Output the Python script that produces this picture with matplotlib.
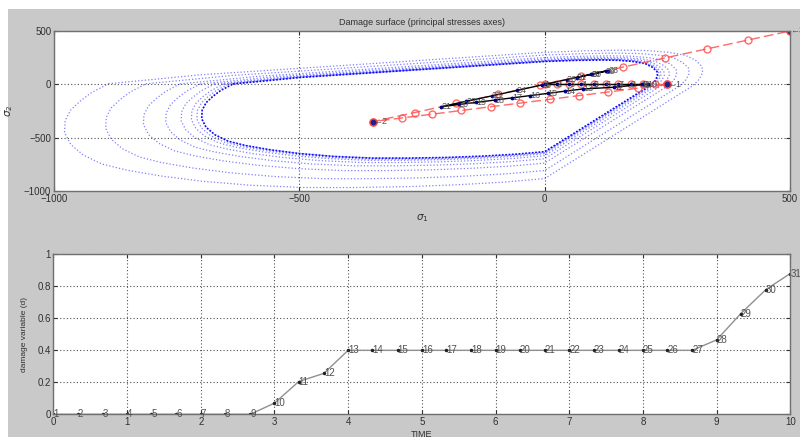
import numpy as np
import matplotlib.pyplot as plt
from matplotlib.patches import Rectangle

plt.rcParams['font.family'] = ['Liberation Sans', 'DejaVu Sans']

# initial damage surface (principal stresses)
surf_s1 = [-635, -560, -500, -400, -300, -200, -100, 0, 60, 112, 150, 180, 205, 220, 229, 230, 225, 215,
           0, -60, -130, -200, -280, -350, -430, -500, -560, -610, -645, -672, -690, -699, -698, -690,
           -676, -660, -635]
surf_s2 = [5, 38, 65, 95, 125, 155, 185, 215, 225, 229, 226, 215, 195, 160, 120, 80, 35, -10,
           -628, -652, -670, -682, -688, -688, -672, -645, -610, -570, -530, -470, -400, -320, -240,
           -170, -110, -55, 5]
# size of the grown surfaces relative to the initial one
surf_scale = [1.0, 1.014, 1.03, 1.06, 1.105, 1.17, 1.28, 1.40]

# effective stress path (red) and real stress path (black), 31 steps
red_s1 = [0, 25, 50, 75, 100, 125, 150, 175, 200, 225, 250, 190, 130, 70, 10, -50, -110, -170, -230,
          -290, -350, -265, -180, -95, -10, 75, 160, 245, 330, 415, 500]
red_s2 = [0, 0, 0, 0, 0, 0, 0, 0, 0, 0, 0, -35, -70, -104, -139, -174, -208, -243, -278, -312, -347,
          -262, -177, -92, -7, 78, 163, 248, 332, 416, 500]
blk_s1 = [0, 25, 50, 75, 100, 125, 150, 175, 200, 210, 198, 141, 78, 42, 6, -30, -66, -102, -139,
          -175, -211, -160, -108, -57, -6, 45, 96, 130, 125, 95, 65]
blk_s2 = [0, 0, 0, 0, 0, 0, 0, 0, 0, 0, 0, -26, -42, -62, -83, -104, -125, -146, -167, -187, -208,
          -157, -107, -56, -5, 46, 96, 130, 126, 95, 65]
corner_s1 = [250, -350, 500]
corner_s2 = [0, -347, 500]

# damage history
time = [0, 0.33, 0.67, 1, 1.33, 1.67, 2, 2.33, 2.67, 3, 3.33, 3.67, 4, 4.33, 4.67, 5, 5.33, 5.67,
        6, 6.33, 6.67, 7, 7.33, 7.67, 8, 8.33, 8.67, 9, 9.33, 9.67, 10]
damage = [0, 0, 0, 0, 0, 0, 0, 0, 0, 0.07, 0.205, 0.256, 0.40, 0.40, 0.40, 0.40, 0.40, 0.40, 0.40,
          0.40, 0.40, 0.40, 0.40, 0.40, 0.40, 0.40, 0.40, 0.465, 0.63, 0.78, 0.88]

lbl_col = '#505050'
grid_kw = dict(color='#505050', linestyle=(0, (1, 2)), linewidth=0.8)

fig = plt.figure(figsize=(8, 4.37), dpi=100, facecolor='white')
fig.patches.append(Rectangle((8 / 800, 0), 1, 1 - 9 / 437, transform=fig.transFigure,
                             facecolor='#c9c9c9', edgecolor='none', zorder=-10))

# --- damage surface ---
ax = fig.add_axes([0.0675, 0.5618, 0.92, 0.3673])
s1 = np.array(surf_s1)
s2 = np.array(surf_s2)
for s in surf_scale:
    ax.plot(s * s1, s * s2, ls=':', color='blue', lw=0.9, alpha=0.5)
ax.plot(s1, s2, ls=(0, (1, 1)), color='blue', lw=1.2, alpha=0.95)

ax.plot(red_s1, red_s2, ls=(0, (7, 3)), color='#ff5050', lw=1.0, marker='o', mfc='none',
        mec='#ff5050', ms=5, alpha=0.85)
ax.plot(blk_s1, blk_s2, '-', color='k', lw=1.0, marker='.', ms=3.5, mfc='#000080', mec='#000080')
for i in range(len(blk_s1)):
    ax.text(blk_s1[i], blk_s2[i], str(i + 1), fontsize=6.5, color=lbl_col, ha='left', va='center')
ax.plot(corner_s1, corner_s2, 'o', mfc='#202090', mec='#ff4040', ms=5)
for i in range(len(corner_s1)):
    ax.text(corner_s1[i], corner_s2[i], '\u2190' + str(i + 1), fontsize=6.5, color=lbl_col,
            ha='left', va='center')

ax.set_xlim(-1000, 500)
ax.set_ylim(-1000, 500)
ax.set_xticks([-1000, -500, 0, 500])
ax.set_yticks([-1000, -500, 0, 500])
ax.grid(True, **grid_kw)
ax.set_title('Damage surface (principal stresses axes)', fontsize=6.5, color='#303030', pad=4)
ax.set_xlabel(r'$\sigma_1$', fontsize=7.5, color='#303030')
ax.xaxis.set_label_coords(0.5, -0.13)
ax.set_ylabel(r'$\sigma_2$', fontsize=7.5, color='#303030')
ax.yaxis.set_label_coords(-0.053, 0.5)

# --- damage evolution ---
ax2 = fig.add_axes([0.0668, 0.0519, 0.921, 0.3661])
ax2.plot(time, damage, '-', color='#909090', lw=1.0, marker='.', ms=3, mfc='#202020', mec='#202020')
for i in range(len(time)):
    ax2.text(time[i], damage[i], str(i + 1), fontsize=7, color=lbl_col, ha='left', va='center')
ax2.set_xlim(0, 10)
ax2.set_ylim(0, 1)
ax2.set_xticks(range(11))
ax2.set_yticks([0, 0.2, 0.4, 0.6, 0.8, 1])
ax2.set_yticklabels(['0', '0.2', '0.4', '0.6', '0.8', '1'])
ax2.grid(True, **grid_kw)
ax2.set_xlabel('TIME', fontsize=6.5, color='#303030')
ax2.xaxis.set_label_coords(0.5, -0.10)
ax2.set_ylabel('damage variable (d)', fontsize=6, color='#303030')
ax2.yaxis.set_label_coords(-0.035, 0.5)

for a in (ax, ax2):
    a.set_facecolor('white')
    a.tick_params(direction='in', top=True, right=True, labelsize=7, colors='#303030',
                  length=3, pad=2)
    for sp in a.spines.values():
        sp.set_color('#707070')
        sp.set_linewidth(1.0)

fig.savefig('out.png', dpi=100, facecolor=fig.get_facecolor())
